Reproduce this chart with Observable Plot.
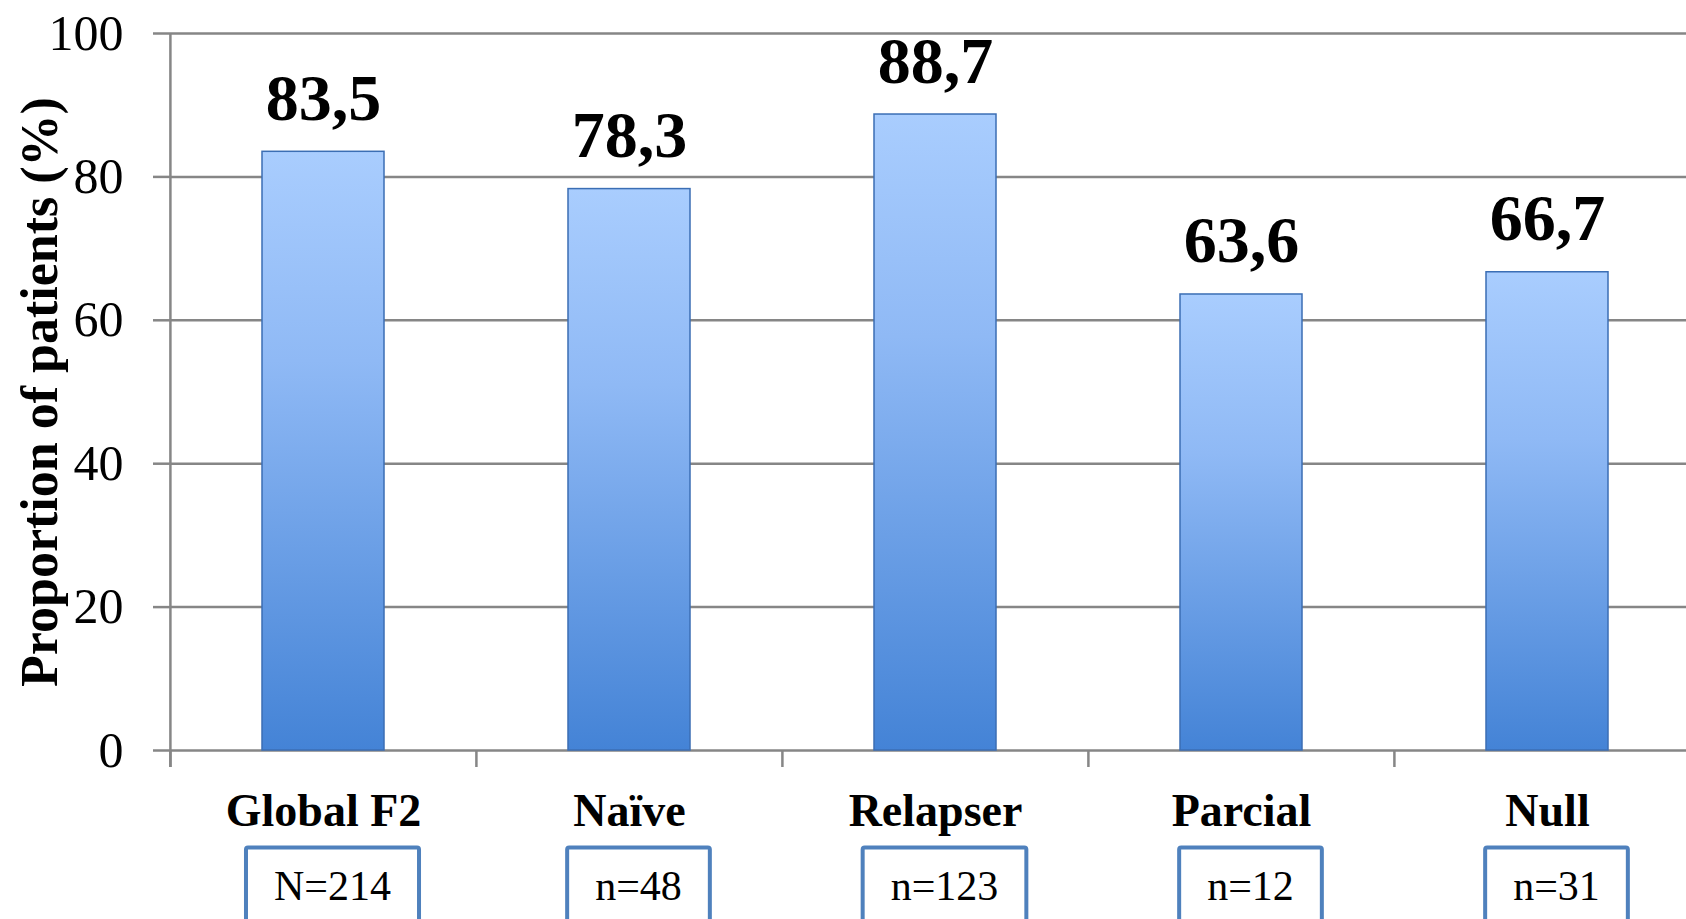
<!DOCTYPE html>
<html>
<head>
<meta charset="utf-8">
<script src="https://cdn.jsdelivr.net/npm/d3@7"></script>
<script src="https://cdn.jsdelivr.net/npm/@observablehq/plot@0.6"></script>
<style>
  html, body { margin: 0; padding: 0; background: #fff; overflow: hidden; }
  #chart { width: 1686px; height: 919px; }
</style>
</head>
<body>
<div id="chart"></div>
<script>
// ---- data ----
const categories = ["Global F2", "Naïve", "Relapser", "Parcial", "Null"];
const values = [83.5, 78.3, 88.7, 63.6, 66.7];
const nLabels = ["N=214", "n=48", "n=123", "n=12", "n=31"];
const yTicks = [0, 20, 40, 60, 80, 100];
const yTitle = "Proportion of patients (%)";

const data = categories.map((c, i) => ({category: c, value: values[i], n: nLabels[i]}));

const W = 1686, H = 919;
const xRange = [170, 1701];
const step = (xRange[1] - xRange[0]) / categories.length;
const grid = "#868686";
const font = "'Liberation Serif', 'Times New Roman', serif";

const defs = () => {
  const ns = "http://www.w3.org/2000/svg";
  const d = document.createElementNS(ns, "defs");
  const g = document.createElementNS(ns, "linearGradient");
  g.setAttribute("id", "barGrad");
  g.setAttribute("x1", "0"); g.setAttribute("y1", "0");
  g.setAttribute("x2", "0"); g.setAttribute("y2", "1");
  [["0%", "#a9cdfe"], ["35%", "#8fb9f5"], ["100%", "#4483d6"]].forEach(([o, c]) => {
    const s = document.createElementNS(ns, "stop");
    s.setAttribute("offset", o); s.setAttribute("stop-color", c);
    g.appendChild(s);
  });
  d.appendChild(g);
  return d;
};

const chart = Plot.plot({
  width: W,
  height: H,
  marginLeft: 170,
  marginRight: 0,
  marginTop: 33,
  marginBottom: 169,
  style: {fontFamily: font, background: "white", color: "black"},
  x: {domain: categories, range: xRange, paddingInner: 0.6, paddingOuter: 0.3, axis: null},
  y: {domain: [0, 100], axis: null},
  marks: [
    defs,
    // horizontal gridlines
    Plot.ruleY(yTicks, {stroke: grid, strokeWidth: 2.5}),
    // y axis ticks + labels
    Plot.axisY({ticks: yTicks, tickSize: 17, tickPadding: 30, stroke: grid, strokeWidth: 2.5,
                fill: "black", fontSize: 50, label: null}),
    // x axis boundary ticks
    Plot.axisX({ticks: categories, tickSize: 17, dx: -step / 2, stroke: grid, strokeWidth: 2.5,
                tickFormat: () => "", label: null}),
    // vertical axis line
    Plot.ruleX([categories[0]], {dx: -step / 2, stroke: grid, strokeWidth: 2.5, insetBottom: -17}),
    // bars
    Plot.barY(data, {x: "category", y: "value", fill: "url(#barGrad)",
                     stroke: "#3b6eb4", strokeWidth: 1.5}),
    // value labels
    Plot.text(data, {x: "category", y: "value", text: d => d.value.toFixed(1).replace(".", ","),
                     lineAnchor: "bottom", dy: -32, fontSize: 66, fontWeight: "bold", fill: "black"}),
    // category labels
    Plot.text(data, {x: "category", text: "category", frameAnchor: "bottom", dy: 75,
                     fontSize: 46, fontWeight: "bold", fill: "black"}),
    // n labels (boxes added after render)
    Plot.text(data, {x: "category", text: "n", frameAnchor: "bottom", dy: 149, dx: 9,
                     fontSize: 42, fill: "black", className: "nbox"}),
    // y title
    Plot.text([yTitle], {frameAnchor: "left", dx: -130, rotate: -90, fontSize: 52,
                         textAnchor: "middle", fontWeight: "bold", fill: "black"})
  ]
});

document.getElementById("chart").appendChild(chart);

// draw boxes around n labels
const ns = "http://www.w3.org/2000/svg";
const grp = chart.querySelector("g.nbox");
if (grp) {
  const boxG = document.createElementNS(ns, "g");
  grp.parentNode.insertBefore(boxG, grp);
  grp.querySelectorAll("text").forEach(t => {
    const b = t.getBBox();
    const ctm = t.transform.baseVal.consolidate();
    let ox = 0, oy = 0;
    if (ctm) { ox = ctm.matrix.e; oy = ctm.matrix.f; }
    const pg = grp.transform.baseVal.consolidate();
    if (pg) { ox += pg.matrix.e; oy += pg.matrix.f; }
    const r = document.createElementNS(ns, "rect");
    r.setAttribute("x", ox + b.x - 28);
    r.setAttribute("y", oy + b.y - 15);
    r.setAttribute("width", b.width + 56);
    r.setAttribute("height", 120);
    r.setAttribute("rx", 2);
    r.setAttribute("fill", "white");
    r.setAttribute("stroke", "#4f81bd");
    r.setAttribute("stroke-width", 4);
    boxG.appendChild(r);
  });
}
</script>
</body>
</html>
